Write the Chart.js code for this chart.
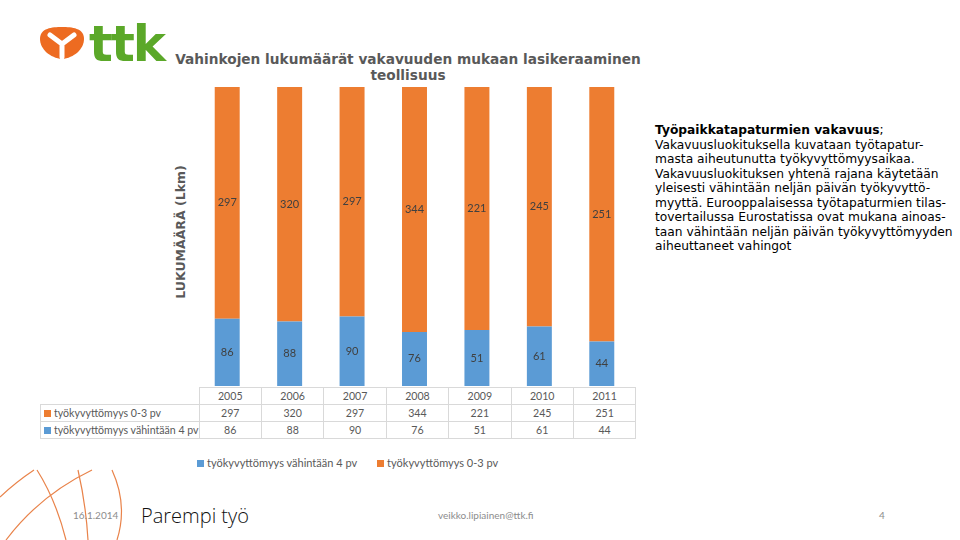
<!DOCTYPE html>
<html>
<head>
<meta charset="utf-8">
<script src="https://cdn.jsdelivr.net/npm/chart.js@4"></script>
<style>
  html, body { margin: 0; padding: 0; }
  body { width: 960px; height: 540px; position: relative; overflow: hidden; background: #fff; font-family: Lato, sans-serif; }
  .abs { position: absolute; }
  #title { left: 150px; top: 51px; width: 516px; text-align: center; font: bold 13.7px/16px "DejaVu Sans", sans-serif; color: #595959; }
  #ytitle { left: 180px; top: 232px; transform: translate(-50%, -50%) rotate(-90deg); font: bold 12.5px "DejaVu Sans", sans-serif; color: #595959; white-space: nowrap; }
  #chartBox { left: 196px; top: 87px; width: 437px; height: 299px; }
  #note { left: 655px; top: 123px; font: 12.25px/14.5px "DejaVu Sans", sans-serif; color: #000; white-space: pre; }
  #tbl { left: 40px; top: 387px; border-collapse: collapse; table-layout: fixed; font-size: 10.6px; color: #595959; white-space: nowrap; }
  #tbl td { border: 1px solid #d9d9d9; height: 16px; padding: 0; text-align: center; overflow: hidden; }
  #tbl td.lab { text-align: left; padding-left: 3px; width: 152px; }
  #tbl td.blank { border: none; }
  #tbl td.num { width: 61.4px; }
  .sw { display: inline-block; width: 7px; height: 7px; margin-right: 3px; vertical-align: 0px; }
  #legend { left: 197px; top: 456px; font-size: 11px; color: #595959; white-space: nowrap; }
  #legend span.item { margin-right: 20px; }
  #logoText { left: 89px; top: 15px; font: bold 50px "DejaVu Sans", sans-serif; color: #5ba829; letter-spacing: -2px; }
  .foot { font-size: 10px; color: #8c8c8c; }
</style>
</head>
<body>

<svg class="abs" style="left:0;top:0" width="960" height="540">
  <!-- logo emblem -->
  <path d="M40 39 C40 28 52 27 62 27 C72 27 84 28 84 39 C84 49 74 58 62 59 C50 58 40 49 40 39 Z" fill="#ed6b21"/>
  <path d="M62 44 L50 35 M62 44 L74 35 M62 44 L62 57" stroke="#fff" stroke-width="5" stroke-linecap="round" fill="none"/>
  <!-- footer arcs -->
  <g stroke="#e9834a" stroke-width="1.2" fill="none">
    <path d="M0 497 Q16 482 34 470"/>
    <path d="M6 540 Q40 495 92 470"/>
    <path d="M37 470 Q56 500 66 540"/>
    <path d="M78 470 Q86 505 88 540"/>
    <path d="M112 470 Q128 505 117 540"/>
  </g>
</svg>

<div id="logoText" class="abs">ttk</div>
<div id="title" class="abs">Vahinkojen lukumäärät vakavuuden mukaan lasikeraaminen<br>teollisuus</div>
<div id="ytitle" class="abs">LUKUMÄÄRÄ (Lkm)</div>

<div id="chartBox" class="abs"><canvas id="chart"></canvas></div>

<div id="note" class="abs"><b>Työpaikkatapaturmien vakavuus</b>;
Vakavuusluokituksella kuvataan työtapatur-
masta aiheutunutta työkyvyttömyysaikaa.
Vakavuusluokituksen yhtenä rajana käytetään
yleisesti vähintään neljän päivän työkyvyttö-
myyttä. Eurooppalaisessa työtapaturmien tilas-
tovertailussa Eurostatissa ovat mukana ainoas-
taan vähintään neljän päivän työkyvyttömyyden
aiheuttaneet vahingot</div>

<table id="tbl" class="abs"></table>
<div id="legend" class="abs"></div>

<div class="abs foot" style="left:73px;top:509px">16.1.2014</div>
<div class="abs" style="left:141px;top:502px;font:300 20px 'Open Sans',sans-serif;color:#111">Parempi työ</div>
<div class="abs foot" style="left:438px;top:509px">veikko.lipiainen@ttk.fi</div>
<div class="abs foot" style="left:879px;top:509px">4</div>

<script>
// ── Data ───────────────────────────────────────
const years     = ['2005', '2006', '2007', '2008', '2009', '2010', '2011'];
const shortDays = [297, 320, 297, 344, 221, 245, 251];   // työkyvyttömyys 0-3 pv
const longDays  = [86, 88, 90, 76, 51, 61, 44];          // työkyvyttömyys vähintään 4 pv

const labelShort = 'työkyvyttömyys 0-3 pv';
const labelLong  = 'työkyvyttömyys vähintään 4 pv';
const ORANGE = '#ed7d31';
const BLUE   = '#5b9bd5';

// 100 % stacked: share of each year's total
const totals   = years.map((_, i) => shortDays[i] + longDays[i]);
const pctLong  = longDays.map((v, i) => v / totals[i] * 100);
const pctShort = shortDays.map((v, i) => v / totals[i] * 100);

// ── Value labels inside the bar segments ───────
const valueLabels = {
  id: 'valueLabels',
  afterDatasetsDraw(chart) {
    const ctx = chart.ctx;
    ctx.save();
    ctx.font = '11px Lato, sans-serif';
    ctx.fillStyle = '#404040';
    ctx.textAlign = 'center';
    ctx.textBaseline = 'middle';
    chart.data.datasets.forEach((ds, di) => {
      chart.getDatasetMeta(di).data.forEach((bar, i) => {
        ctx.fillText(ds.raw[i], bar.x, (bar.y + bar.base) / 2);
      });
    });
    ctx.restore();
  }
};

new Chart(document.getElementById('chart'), {
  type: 'bar',
  data: {
    labels: years,
    datasets: [
      { label: labelLong,  data: pctLong,  raw: longDays,  backgroundColor: BLUE },
      { label: labelShort, data: pctShort, raw: shortDays, backgroundColor: ORANGE }
    ]
  },
  options: {
    responsive: true,
    maintainAspectRatio: false,
    animation: false,
    barPercentage: 0.4,
    categoryPercentage: 1,
    layout: { padding: 0 },
    plugins: { legend: { display: false }, tooltip: { enabled: false } },
    scales: {
      x: { stacked: true, display: false },
      y: { stacked: true, display: false, min: 0, max: 100 }
    }
  },
  plugins: [valueLabels]
});

// ── Data table under the chart ─────────────────
const tbl = document.getElementById('tbl');
let html = '<tr><td class="blank"></td>' + years.map(y => `<td class="num">${y}</td>`).join('') + '</tr>';
html += `<tr><td class="lab"><span class="sw" style="background:${ORANGE}"></span>${labelShort}</td>` +
        shortDays.map(v => `<td class="num">${v}</td>`).join('') + '</tr>';
html += `<tr><td class="lab"><span class="sw" style="background:${BLUE}"></span>${labelLong}</td>` +
        longDays.map(v => `<td class="num">${v}</td>`).join('') + '</tr>';
tbl.innerHTML = html;

// ── Legend ─────────────────────────────────────
document.getElementById('legend').innerHTML =
  `<span class="item"><span class="sw" style="background:${BLUE}"></span>${labelLong}</span>` +
  `<span class="item"><span class="sw" style="background:${ORANGE}"></span>${labelShort}</span>`;
</script>
</body>
</html>
